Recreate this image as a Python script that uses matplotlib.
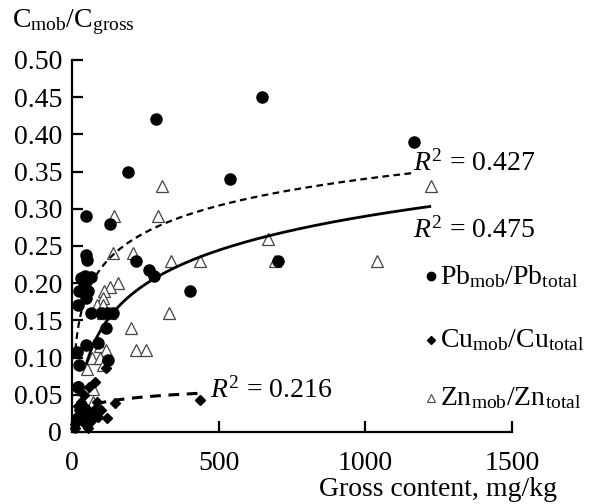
import numpy as np
import matplotlib.pyplot as plt

plt.rcParams['font.family'] = ['Liberation Serif', 'DejaVu Serif']
plt.rcParams['mathtext.fontset'] = 'custom'
plt.rcParams['mathtext.rm'] = 'Liberation Serif'
plt.rcParams['mathtext.it'] = 'Liberation Serif:italic'

# Pb_mob/Pb_total
pb_x = [17, 24, 20, 48, 130, 191, 286, 648, 539, 1166, 702, 402, 218, 262, 280,
        48, 52, 31, 45, 65, 24, 40, 55, 48, 20, 65, 119, 140, 116, 48, 89, 123, 20, 100]
pb_y = [0.107, 0.09, 0.06, 0.29, 0.28, 0.35, 0.42, 0.45, 0.34, 0.39, 0.23, 0.19, 0.23, 0.218, 0.21,
        0.238, 0.231, 0.207, 0.21, 0.208, 0.19, 0.20, 0.19, 0.18, 0.17, 0.16, 0.16, 0.16, 0.14, 0.117, 0.12, 0.097, 0.06, 0.16]

# Cu_mob/Cu_total
cu_x = [10, 15, 20, 25, 30, 35, 40, 45, 50, 55, 60, 65, 70, 75, 80, 30, 20, 85,
        60, 78, 116, 119, 147, 436, 100, 90, 40, 55, 12]
cu_y = [0.01, 0.02, 0.015, 0.03, 0.025, 0.02, 0.035, 0.01, 0.02, 0.03, 0.025, 0.015, 0.02, 0.03, 0.025,
        0.04, 0.035, 0.04, 0.06, 0.067, 0.086, 0.019, 0.039, 0.043, 0.03, 0.02, 0.05, 0.005, 0.005]

# Zn_mob/Zn_total
zn_x = [306, 145, 295, 670, 1223, 1040, 692, 337, 436, 209, 141, 158, 130, 109, 107, 84, 107,
        331, 130, 107, 203, 220, 254, 95, 116, 70, 95, 107, 50, 72, 72]
zn_y = [0.33, 0.29, 0.29, 0.26, 0.33, 0.23, 0.23, 0.23, 0.23, 0.24, 0.24, 0.20, 0.195, 0.19, 0.18, 0.17, 0.17,
        0.16, 0.16, 0.16, 0.14, 0.11, 0.11, 0.115, 0.11, 0.10, 0.10, 0.09, 0.084, 0.058, 0.04]

# logarithmic trend lines y = a*ln(x) + b
fit_solid = (0.066, -0.166, 50, 1220)
fit_dash_top = (0.052, -0.019, 12, 1170)
fit_dash_cu = (0.0086, -0.0003, 25, 436)

fs = 20

fig = plt.figure(figsize=(5.99, 5.04), dpi=100)
ax = fig.add_axes([0.12, 0.143, 0.7346, 0.738])

ax.plot(pb_x, pb_y, 'o', color='black', markersize=8, clip_on=False, zorder=3)
ax.plot(cu_x, cu_y, 'D', color='black', markersize=5, clip_on=False, zorder=3)
ax.plot(zn_x, zn_y, '^', mfc='white', mec='#444444', mew=0.9, markersize=8, clip_on=False, zorder=2)

a, b, x0, x1 = fit_solid
xx = np.linspace(x0, x1, 300)
ax.plot(xx, a * np.log(xx) + b, '-', color='black', lw=2)
a, b, x0, x1 = fit_dash_top
xx = np.linspace(x0, x1, 300)
ax.plot(xx, a * np.log(xx) + b, '--', color='black', lw=1.6, dashes=(3, 2))
a, b, x0, x1 = fit_dash_cu
xx = np.linspace(x0, x1, 300)
ax.plot(xx, a * np.log(xx) + b, '--', color='black', lw=2.2, dashes=(3.5, 2.5))

ax.set_xlim(0, 1500)
ax.set_ylim(0, 0.5)
ax.set_xticks([0, 500, 1000, 1500])
ax.set_yticks(np.arange(0, 0.51, 0.05))
ax.set_yticklabels(['0'] + ['%.2f' % v for v in np.arange(0.05, 0.51, 0.05)])
ax.spines['top'].set_visible(False)
ax.spines['right'].set_visible(False)
ax.spines['left'].set_linewidth(1.6)
ax.spines['bottom'].set_linewidth(1.6)
ax.tick_params(direction='in', length=8, width=1.6, labelsize=fs, pad=7)
ax.tick_params(axis='x', pad=14)

ax.text(1163, 0.3616, '$R^2$ = 0.427', fontsize=fs, va='center')
ax.text(1163, 0.2715, '$R^2$ = 0.475', fontsize=fs, va='center')
ax.text(470, 0.0565, '$R^2$ = 0.216', fontsize=fs, va='center')

fig.text(0.02, 0.956, 'C$_{\\mathrm{mob}}$/C$_{\\mathrm{gross}}$', fontsize=fs, va='center')
fig.text(0.93, 0.028, 'Gross content, mg/kg', fontsize=fs, ha='right', va='center')

leg_y = [0.452, 0.325, 0.21]
leg_lab = ['Pb$_{\\mathrm{mob}}$/Pb$_{\\mathrm{total}}$',
           'Cu$_{\\mathrm{mob}}$/Cu$_{\\mathrm{total}}$',
           'Zn$_{\\mathrm{mob}}$/Zn$_{\\mathrm{total}}$']
leg_m = [dict(marker='o', color='black', ms=6), dict(marker='D', color='black', ms=4),
         dict(marker='^', mfc='white', mec='#444444', ms=6, mew=0.8)]
for yy, lab, m in zip(leg_y, leg_lab, leg_m):
    fig.lines.append(plt.Line2D([0.72], [yy], transform=fig.transFigure, ls='none', **m))
    fig.text(0.735, yy, lab, fontsize=fs, va='center')

plt.savefig('out.png', dpi=100)
